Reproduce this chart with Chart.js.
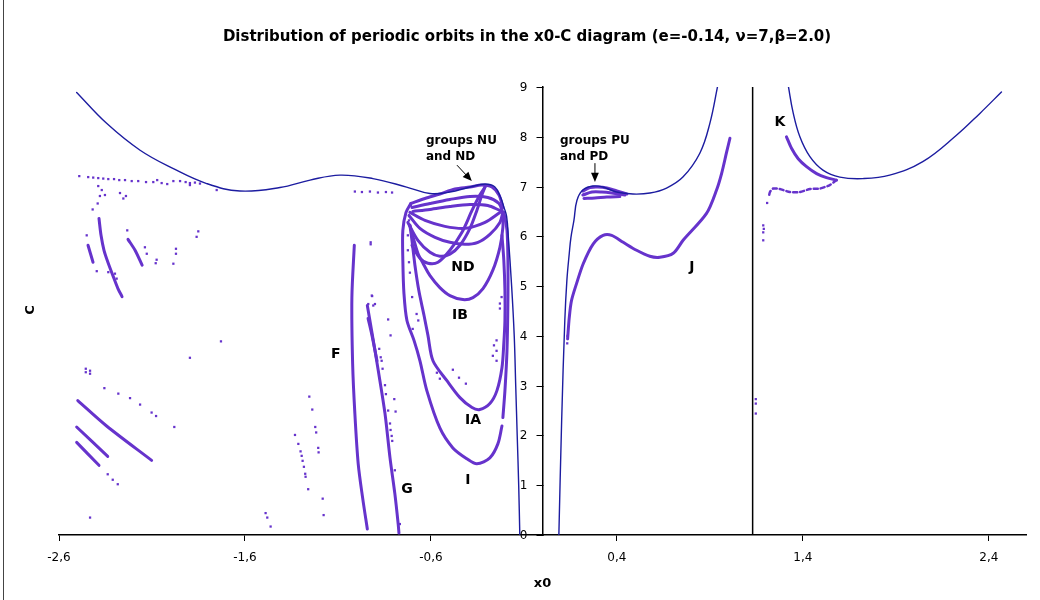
<!DOCTYPE html>
<html>
<head>
<meta charset="utf-8">
<title>Distribution of periodic orbits in the x0-C diagram</title>
<script src="https://cdn.jsdelivr.net/npm/chart.js@4.4.1/dist/chart.umd.min.js"></script>
<style>
  html, body { margin: 0; padding: 0; background: #fff; }
  #wrap { width: 1040px; height: 600px; position: relative; }
</style>
</head>
<body>
<div id="wrap"><canvas id="orbitChart" width="1040" height="600"></canvas></div>
<script>
// ---- data (x0, C) ----
var xTicks = [-2.6, -1.6, -0.6, 0.4, 1.4, 2.4];
var yTicks = [0, 1, 2, 3, 4, 5, 6, 7, 8, 9];

// zero velocity curves (blue)
var zvcLeft = [[-2.505,8.89],[-2.344,8.27],[-2.164,7.73],[-1.985,7.36],[-1.806,7.06],[-1.627,6.91],[-1.412,6.98],
    [-1.250,7.13],[-1.089,7.23],[-0.912,7.16],[-0.731,6.99],[-0.605,6.86],[-0.498,6.89],[-0.390,6.99],[-0.309,7.05],
    [-0.256,6.99],[-0.225,6.78],[-0.207,6.58],[-0.193,6.40],[-0.184,6.0],[-0.166,5.0],[-0.152,4.0],[-0.144,3.0],
    [-0.136,2.0],[-0.128,1.0],[-0.122,0]];
var zvcMid = [[0.088,0],[0.103,2.30],[0.120,4.31],[0.131,5.11],[0.144,5.66],[0.153,5.98],[0.169,6.32],[0.185,6.72],
    [0.217,6.93],[0.271,7.01],[0.325,6.99],[0.398,6.89],[0.486,6.85],[0.578,6.87],[0.667,6.97],[0.755,7.19],
    [0.846,7.67],[0.900,8.27],[0.943,9.04]];
var zvcRight = [[1.321,9.04],[1.348,8.48],[1.384,8.0],[1.438,7.6],[1.508,7.33],[1.599,7.19],[1.723,7.16],[1.867,7.23],
    [2.045,7.5],[2.226,8.03],[2.352,8.47],[2.468,8.90]];
var blackLine = [[1.13,0],[1.13,9]];

// orbit families (purple curves)
var famI = [[-0.708,6.66],[-0.734,6.48],[-0.751,6.12],[-0.751,5.52],[-0.745,4.85],[-0.729,4.31],[-0.691,3.91],
    [-0.659,3.50],[-0.622,2.90],[-0.552,2.15],[-0.482,1.75],[-0.406,1.53],[-0.353,1.43],[-0.283,1.55],[-0.240,1.83],[-0.218,2.19]];
var famIRight = [[-0.213,2.36],[-0.202,2.90],[-0.191,3.70],[-0.186,4.71],[-0.186,5.52],[-0.191,6.12],[-0.208,6.48]];
var famIA = [[-0.713,6.22],[-0.702,5.92],[-0.686,5.42],[-0.665,4.91],[-0.637,4.41],[-0.616,4.01],[-0.589,3.50],
    [-0.514,3.10],[-0.444,2.76],[-0.379,2.56],[-0.337,2.52],[-0.283,2.64],[-0.245,2.90],[-0.218,3.36],[-0.208,3.85],
    [-0.202,4.31],[-0.202,4.91],[-0.208,5.52],[-0.218,6.02]];
var famIB = [[-0.713,6.22],[-0.691,5.92],[-0.670,5.66],[-0.637,5.42],[-0.605,5.21],[-0.552,4.97],[-0.498,4.81],
    [-0.428,4.73],[-0.374,4.77],[-0.320,4.95],[-0.267,5.32],[-0.229,5.78],[-0.213,6.18],[-0.213,6.48]];
var famNDa = [[-0.718,6.42],[-0.659,6.16],[-0.578,5.98],[-0.498,5.88],[-0.417,5.84],[-0.347,5.88],[-0.283,6.04],[-0.229,6.28],[-0.213,6.48]];
var famNDb = [[-0.724,6.28],[-0.670,5.92],[-0.605,5.68],[-0.552,5.60],[-0.498,5.64],[-0.444,5.82],[-0.390,6.16],[-0.353,6.52],[-0.326,6.83],[-0.309,6.99]];
var famNDc = [[-0.702,5.82],[-0.659,5.56],[-0.616,5.46],[-0.562,5.48],[-0.498,5.72],[-0.433,6.08],[-0.379,6.52],[-0.337,6.83],[-0.309,6.99]];
var famNDd = [[-0.713,6.48],[-0.632,6.32],[-0.525,6.20],[-0.417,6.16],[-0.309,6.28],[-0.229,6.48]];
var famNU1 = [[-0.708,6.66],[-0.632,6.76],[-0.552,6.85],[-0.471,6.95],[-0.390,6.99],[-0.326,7.03],[-0.272,6.99],[-0.234,6.83],[-0.213,6.58]];
var famNU2 = [[-0.702,6.58],[-0.605,6.66],[-0.498,6.74],[-0.390,6.80],[-0.294,6.78],[-0.234,6.66],[-0.213,6.48]];
var famNU3 = [[-0.697,6.50],[-0.605,6.54],[-0.498,6.60],[-0.390,6.64],[-0.294,6.62],[-0.229,6.52]];
var famF = [[-1.012,5.82],[-1.025,4.77],[-1.021,3.44],[-1.009,2.44],[-0.991,1.43],[-0.967,0.74],[-0.942,0.12]];
var famG = [[-0.942,4.61],[-0.919,4.11],[-0.883,3.30],[-0.847,2.44],[-0.820,1.55],[-0.794,0.83],[-0.776,0.22],[-0.772,0.04]];
var famG2 = [[-0.938,4.35],[-0.917,4.01],[-0.890,3.50]];
var famJ = [[0.135,3.94],[0.144,4.37],[0.156,4.71],[0.183,5.05],[0.219,5.45],[0.273,5.85],[0.326,6.02],[0.372,6.02],
    [0.434,5.88],[0.506,5.72],[0.577,5.60],[0.631,5.58],[0.703,5.66],[0.756,5.92],[0.882,6.46],[0.936,6.93],
    [0.963,7.26],[0.990,7.69],[1.008,7.97]];
var famP1 = [[0.217,6.91],[0.255,6.98],[0.298,6.99],[0.346,6.97],[0.400,6.91],[0.454,6.85]];
var famP2 = [[0.217,6.83],[0.266,6.89],[0.319,6.89],[0.373,6.87],[0.443,6.83]];
var famP3 = [[0.223,6.76],[0.282,6.77],[0.346,6.79],[0.416,6.80]];
var famK = [[1.312,8.00],[1.339,7.77],[1.375,7.56],[1.420,7.40],[1.474,7.26],[1.527,7.18],[1.581,7.13]];
var famKBack = [[1.581,7.13],[1.545,7.03],[1.492,6.96],[1.438,6.95],[1.384,6.89],[1.330,6.89],[1.276,6.95],[1.240,6.96],[1.223,6.89],[1.219,6.83]];
var leftArc = [[-2.385,6.36],[-2.374,6.02],[-2.358,5.72],[-2.337,5.48],[-2.310,5.21],[-2.283,4.95],[-2.261,4.79]];
var leftThin = [[-2.444,5.82],[-2.417,5.48]];
var leftClump = [[-2.229,5.94],[-2.191,5.72],[-2.153,5.42]];
var lowLeft1 = [[-2.499,2.70],[-2.344,2.19],[-2.102,1.50]];
var lowLeft2 = [[-2.505,2.17],[-2.338,1.58]];
var lowLeft3 = [[-2.505,1.86],[-2.385,1.40]];

// isolated orbits (purple dots)
var orbitDots = [
    [-2.491,7.21],[-2.443,7.19],[-2.416,7.18],[-2.389,7.17],[-2.362,7.16],[-2.335,7.15],[-2.304,7.15],[-2.276,7.13],
    [-2.245,7.13],[-2.209,7.11],[-2.174,7.11],[-2.132,7.09],[-2.093,7.09],[-2.072,7.13],[-2.048,7.07],[-2.018,7.05],
    [-1.985,7.11],[-1.949,7.11],[-1.919,7.09],[-1.896,7.07],[-1.869,7.08],[-1.842,7.06],[-1.896,7.03],[-1.752,6.93],
    [-2.389,7.01],[-2.370,6.93],[-2.380,6.81],[-2.353,6.83],[-2.392,6.66],[-2.419,6.54],[-2.272,6.87],[-2.254,6.76],
    [-2.240,6.81],[-2.451,6.02],[-2.397,5.30],[-2.335,5.28],[-2.299,5.25],[-2.290,5.15],[-2.233,6.12],[-2.138,5.78],
    [-2.128,5.65],[-2.075,5.53],[-2.080,5.46],[-1.971,5.75],[-1.971,5.65],[-1.985,5.45],[-1.851,6.10],[-1.860,5.99],
    [-2.456,3.34],[-2.433,3.30],[-2.456,3.27],[-2.433,3.24],[-1.896,3.56],[-1.729,3.89],[-1.980,2.17],
    [-2.356,2.95],[-2.281,2.84],[-2.218,2.75],[-2.164,2.62],[-2.102,2.46],[-2.078,2.39],
    [-2.338,1.22],[-2.311,1.11],[-2.284,1.02],[-2.433,0.35],[-1.489,0.44],[-1.480,0.35],[-1.462,0.17],
    [-1.254,2.78],[-1.238,2.52],[-1.222,2.17],[-1.217,2.06],[-1.206,1.75],[-1.204,1.66],[-1.331,2.01],[-1.313,1.83],
    [-1.301,1.68],[-1.295,1.59],[-1.290,1.49],[-1.283,1.37],[-1.276,1.23],[-1.274,1.17],[-1.260,0.92],[-1.182,0.73],[-1.177,0.40],
    [-0.924,5.88],[-0.924,5.84],[-0.916,4.80],[-0.901,4.64],[-0.878,3.74],[-0.870,3.57],[-0.865,3.50],[-0.860,3.34],
    [-0.847,3.01],[-0.842,2.83],[-0.797,2.73],[-0.830,2.50],[-0.790,2.48],[-0.820,2.24],[-0.817,2.11],[-0.811,1.99],
    [-0.808,1.89],[-0.794,1.30],[-0.767,0.22],[-0.830,4.33],[-0.817,4.01],[-0.701,4.78],[-0.677,4.44],[-0.668,4.31],[-0.698,4.14],
    [-1.009,6.90],[-0.971,6.89],[-0.928,6.90],[-0.885,6.88],[-0.842,6.89],[-0.809,6.88],
    [-0.918,4.81],[-0.937,4.64],[-0.910,4.61],
    [-0.247,3.91],[-0.247,3.70],[-0.247,3.50],[-0.229,4.65],[-0.229,4.55],[-0.220,4.78],[-0.261,3.81],[-0.267,3.60],
    [-0.568,3.26],[-0.552,3.14],[-0.482,3.32],[-0.449,3.16],[-0.412,3.04],
    [-0.708,6.62],[-0.718,6.32],[-0.724,6.02],[-0.724,5.72],[-0.718,5.48],[-0.713,5.27],
    [1.208,6.67],[1.187,6.22],[1.187,6.08],[1.187,5.92],[1.190,6.15],[1.147,2.73],[1.147,2.64],[1.147,2.44],
    [0.133,3.85],[0.135,4.00]
];

var titleText = "Distribution of periodic orbits in the x0-C diagram (e=-0.14, \u03bd=7,\u03b2=2.0)";
var regionLabels = [
    { text: "ND", x: -0.428, y: 5.38 },
    { text: "IB", x: -0.444, y: 4.41 },
    { text: "IA", x: -0.374, y: 2.30 },
    { text: "I",  x: -0.401, y: 1.09 },
    { text: "G",  x: -0.729, y: 0.91 },
    { text: "F",  x: -1.111, y: 3.62 },
    { text: "J",  x: 0.803,  y: 5.38 },
    { text: "K",  x: 1.277,  y: 8.29 }
];
var groupLabels = [
    { lines: ["groups NU", "and ND"], x: -0.627, y: [7.91, 7.59] },
    { lines: ["groups PU", "and PD"], x: 0.094,  y: [7.91, 7.59] }
];
var arrows = [
    { from: [-0.460, 7.43], to: [-0.380, 7.11] },
    { from: [0.282, 7.47],  to: [0.282, 7.09] }
];

var PURPLE = "#6633cc";
var BLUE = "#1c1ca0";
var FONT = "'DejaVu Sans', Verdana, sans-serif";

function toXY(list) {
    return list.map(function (p) { return { x: p[0], y: p[1] }; });
}

function lineSet(list, color, width, tension, dash) {
    return {
        data: toXY(list),
        showLine: true,
        borderColor: color,
        backgroundColor: color,
        borderWidth: width,
        pointRadius: 0,
        tension: tension,
        borderDash: dash || [],
        borderCapStyle: "round",
        borderJoinStyle: "round"
    };
}

var datasets = [];
datasets.push(lineSet(zvcLeft, BLUE, 1.4, 0.4));
datasets.push(lineSet(zvcMid, BLUE, 1.4, 0.4));
datasets.push(lineSet(zvcRight, BLUE, 1.4, 0.4));
datasets.push(lineSet(blackLine, "#000", 1.5, 0));

var purpleCurves = [famI, famIRight, famIA, famIB, famNDa, famNDb, famNDc, famNDd, famNU1, famNU2, famNU3,
    famF, famG, famG2, famJ, famP1, famP2, famP3, famK, leftArc, leftThin, leftClump, lowLeft1, lowLeft2, lowLeft3];
purpleCurves.forEach(function (c) {
    datasets.push(lineSet(c, PURPLE, 3, 0.3));
});
datasets.push(lineSet(famKBack, PURPLE, 2.5, 0.2, [4, 3]));

datasets.push({
    data: toXY(orbitDots),
    showLine: false,
    pointStyle: "rect",
    pointRadius: 1.6,
    pointBorderWidth: 0,
    backgroundColor: PURPLE,
    borderColor: PURPLE
});

function fmtComma(v) {
    return v.toFixed(1).replace(".", ",");
}

var labelPlugin = {
    id: "orbitLabels",
    afterDraw: function (chart) {
        var ctx = chart.ctx;
        var xs = chart.scales.x, ys = chart.scales.y;
        ctx.save();
        // frame edge on the left
        ctx.strokeStyle = "#444";
        ctx.lineWidth = 1;
        ctx.beginPath();
        ctx.moveTo(3.5, 0);
        ctx.lineTo(3.5, 600);
        ctx.stroke();

        ctx.fillStyle = "#000";
        ctx.textAlign = "center";
        ctx.textBaseline = "middle";
        ctx.font = "bold 15px " + FONT;
        ctx.fillText(titleText, 527, 37);

        // y axis: tick marks and labels, at x0 = 0
        var ax = Math.round(xs.getPixelForValue(0)) + 0.5;
        ctx.strokeStyle = "#000";
        ctx.lineWidth = 1;
        ctx.textAlign = "right";
        ctx.font = "12px " + FONT;
        yTicks.forEach(function (v) {
            var py = Math.round(ys.getPixelForValue(v)) + 0.5;
            ctx.beginPath();
            ctx.moveTo(ax - 7, py);
            ctx.lineTo(ax, py);
            ctx.stroke();
            ctx.fillText(String(v), ax - 16, py);
        });

        // y axis title
        ctx.save();
        ctx.translate(31, 310);
        ctx.rotate(-Math.PI / 2);
        ctx.textAlign = "center";
        ctx.font = "bold 13px " + FONT;
        ctx.fillText("C", 0, 0);
        ctx.restore();

        ctx.textAlign = "center";
        ctx.font = "bold 14px " + FONT;
        regionLabels.forEach(function (l) {
            ctx.fillText(l.text, xs.getPixelForValue(l.x), ys.getPixelForValue(l.y));
        });

        ctx.textAlign = "left";
        ctx.font = "bold 12px " + FONT;
        groupLabels.forEach(function (g) {
            g.lines.forEach(function (t, i) {
                ctx.fillText(t, xs.getPixelForValue(g.x), ys.getPixelForValue(g.y[i]));
            });
        });

        arrows.forEach(function (a) {
            var x1 = xs.getPixelForValue(a.from[0]), y1 = ys.getPixelForValue(a.from[1]);
            var x2 = xs.getPixelForValue(a.to[0]), y2 = ys.getPixelForValue(a.to[1]);
            var ang = Math.atan2(y2 - y1, x2 - x1);
            var head = 10;
            ctx.strokeStyle = "#000";
            ctx.lineWidth = 1;
            ctx.beginPath();
            ctx.moveTo(x1, y1);
            ctx.lineTo(x2 - head * 0.8 * Math.cos(ang), y2 - head * 0.8 * Math.sin(ang));
            ctx.stroke();
            ctx.beginPath();
            ctx.moveTo(x2, y2);
            ctx.lineTo(x2 - head * Math.cos(ang - 0.4), y2 - head * Math.sin(ang - 0.4));
            ctx.lineTo(x2 - head * Math.cos(ang + 0.4), y2 - head * Math.sin(ang + 0.4));
            ctx.closePath();
            ctx.fill();
        });
        ctx.restore();
    }
};

new Chart(document.getElementById("orbitChart"), {
    type: "scatter",
    data: { datasets: datasets },
    options: {
        responsive: false,
        animation: false,
        layout: { padding: { left: 59, right: 14, top: 87, bottom: 5 } },
        plugins: {
            legend: { display: false },
            tooltip: { enabled: false },
            title: { display: false }
        },
        scales: {
            x: {
                type: "linear",
                min: -2.6,
                max: 2.6,
                afterBuildTicks: function (scale) {
                    scale.ticks = xTicks.map(function (v) { return { value: v }; });
                },
                ticks: {
                    autoSkip: false,
                    maxRotation: 0,
                    padding: 10,
                    color: "#000",
                    font: { family: FONT, size: 12 },
                    callback: function (v) { return fmtComma(v); }
                },
                grid: { drawOnChartArea: false, drawTicks: true, tickLength: 6, color: "#000" },
                border: { display: true, color: "#000", width: 1.5 },
                title: {
                    display: true,
                    text: "x0",
                    color: "#000",
                    padding: { top: 0, bottom: 4 },
                    font: { family: FONT, size: 13, weight: "bold" }
                }
            },
            y: {
                type: "linear",
                min: 0,
                max: 9,
                position: { x: 0 },
                afterBuildTicks: function (scale) {
                    scale.ticks = yTicks.map(function (v) { return { value: v }; });
                },
                ticks: { display: false },
                grid: { display: false },
                border: { display: true, color: "#000", width: 1.5 }
            }
        }
    },
    plugins: [labelPlugin]
});
</script>
</body>
</html>
